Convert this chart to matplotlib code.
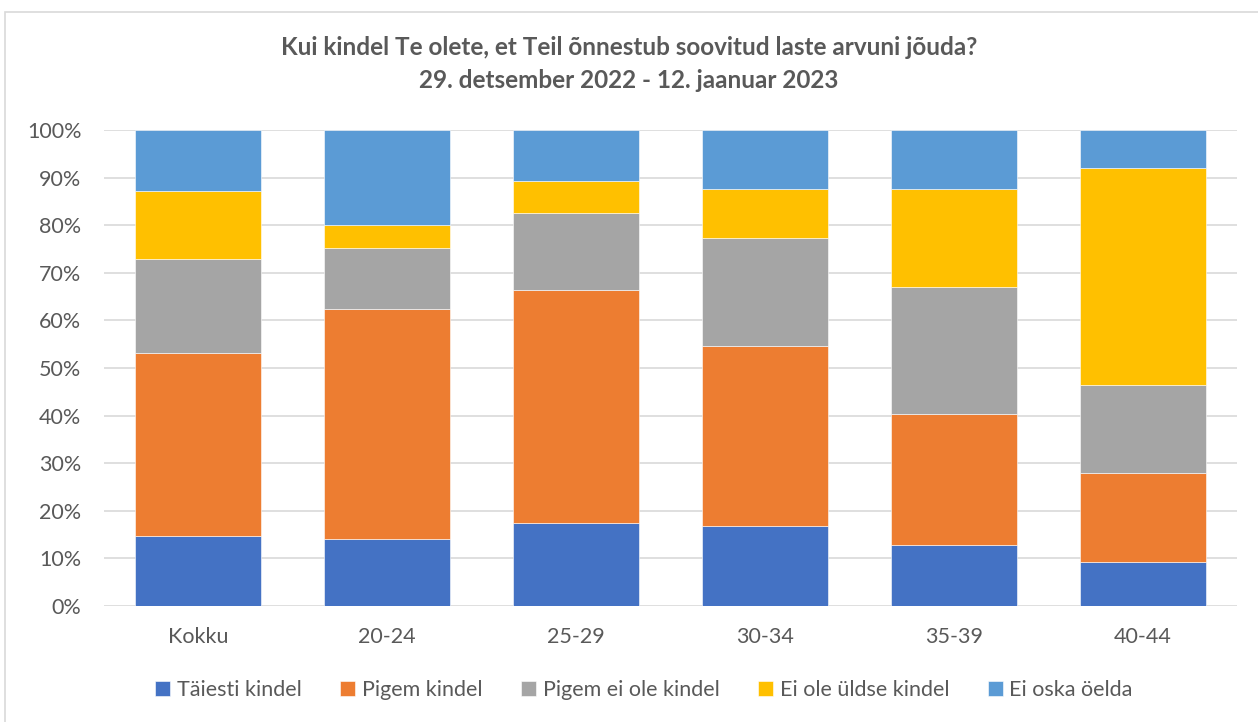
import numpy as np
import matplotlib
matplotlib.use("Agg")
import matplotlib.pyplot as plt
from matplotlib.patches import Rectangle
from matplotlib.ticker import PercentFormatter

# Data (percent of respondents)
categories = ["Kokku", "20-24", "25-29", "30-34", "35-39", "40-44"]
series_names = ["Täiesti kindel", "Pigem kindel", "Pigem ei ole kindel",
                "Ei ole üldse kindel", "Ei oska öelda"]
taiesti_kindel = [14.8, 14.1, 17.4, 16.9, 12.9, 9.2]
pigem_kindel = [38.3, 48.2, 48.9, 37.7, 27.5, 18.7]
pigem_ei_ole = [19.7, 12.8, 16.3, 22.7, 26.7, 18.6]
ei_ole_yldse = [14.4, 5.0, 6.6, 10.2, 20.6, 45.5]
ei_oska = [12.8, 19.9, 10.8, 12.5, 12.3, 8.0]

colors = ["#4472C4", "#ED7D31", "#A5A5A5", "#FFC000", "#5B9BD5"]
text_color = "#595959"

plt.rcParams['font.family'] = ['Lato', 'DejaVu Sans']

fig = plt.figure(figsize=(12.58, 7.22), dpi=100)
ax = fig.add_axes([0.0823, 0.1607, 0.9014, 0.6593])

x = np.arange(len(categories))
bottom = np.zeros(len(categories))
all_series = [taiesti_kindel, pigem_kindel, pigem_ei_ole, ei_ole_yldse, ei_oska]
for name, vals, col in zip(series_names, all_series, colors):
    vals = np.array(vals)
    ax.bar(x, vals, bottom=bottom, width=0.667, color=col, label=name,
           edgecolor="white", linewidth=0.4, zorder=3)
    bottom += vals

ax.set_xlim(-0.5, len(categories) - 0.5)
ax.set_ylim(0, 100)
ax.set_yticks(np.arange(0, 101, 10))
ax.yaxis.set_major_formatter(PercentFormatter(decimals=0))
ax.set_xticks(x)
ax.set_xticklabels(categories)
ax.grid(axis='y', color='#d9d9d9', linewidth=1.2, zorder=0)
ax.tick_params(axis='both', length=0, labelsize=15.5, colors=text_color)
ax.tick_params(axis='x', pad=15)
ax.tick_params(axis='y', pad=16)
for s in ax.spines.values():
    s.set_visible(False)

fig.text(0.5, 0.934, "Kui kindel Te olete, et Teil õnnestub soovitud laste arvuni jõuda?",
         ha='center', va='center', fontsize=17.5, fontweight='bold', color=text_color)
fig.text(0.5, 0.888, "29. detsember 2022 - 12. jaanuar 2023",
         ha='center', va='center', fontsize=17.5, fontweight='bold', color=text_color)

leg = fig.legend(loc='center', bbox_to_anchor=(0.512, 0.044), ncol=5, frameon=False,
                 fontsize=15.5, handlelength=0.7, handleheight=0.7, handletextpad=0.3,
                 columnspacing=1.8)
for t in leg.get_texts():
    t.set_color(text_color)

# light outer chart border
fig.patches.append(Rectangle((0.004, -0.01), 1.1, 0.993, transform=fig.transFigure,
                             fill=False, edgecolor='#d9d9d9', linewidth=1.2))

fig.savefig("out.png", dpi=100)
